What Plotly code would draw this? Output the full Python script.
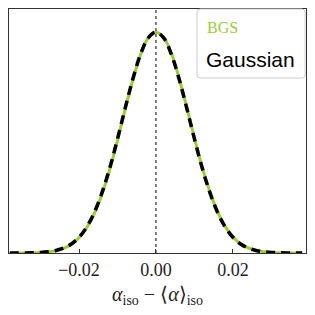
import plotly.graph_objects as go

# values (density units, arbitrary scale)
x_vals = [-0.038, -0.036, -0.034, -0.032, -0.030, -0.028, -0.026, -0.024, -0.022, -0.020,
          -0.018, -0.016, -0.014, -0.012, -0.010, -0.008, -0.006, -0.004, -0.002, 0.000,
          0.002, 0.004, 0.006, 0.008, 0.010, 0.012, 0.014, 0.016, 0.018, 0.020,
          0.022, 0.024, 0.026, 0.028, 0.030, 0.032, 0.034, 0.036, 0.038]
bgs_vals = [0.00, 0.01, 0.02, 0.05, 0.11, 0.24, 0.50, 0.97, 1.80, 3.15,
            5.25, 8.25, 12.3, 17.4, 23.4, 29.9, 36.0, 41.2, 44.7, 45.8,
            44.8, 41.5, 36.4, 30.3, 23.9, 17.9, 12.8, 8.60, 5.50, 3.33,
            1.92, 1.05, 0.55, 0.27, 0.12, 0.05, 0.02, 0.01, 0.00]
gauss_vals = [0.00, 0.01, 0.02, 0.05, 0.12, 0.26, 0.53, 1.02, 1.88, 3.27,
              5.40, 8.46, 12.6, 17.7, 23.7, 30.1, 36.2, 41.3, 44.7, 45.9,
              44.7, 41.3, 36.2, 30.1, 23.7, 17.7, 12.6, 8.46, 5.40, 3.27,
              1.88, 1.02, 0.53, 0.26, 0.12, 0.05, 0.02, 0.01, 0.00]
tick_vals = [-0.02, 0.0, 0.02]
tick_text = ["\u22120.02", "0.00", "0.02"]
legend_labels = ["BGS", "Gaussian"]

GREEN = "#9acd32"
AX = "#333333"

fig = go.Figure()
fig.add_trace(go.Scatter(x=x_vals, y=bgs_vals, mode="lines", name=legend_labels[0],
                         line=dict(color=GREEN, width=3, shape="spline"), showlegend=False))
fig.add_trace(go.Scatter(x=x_vals, y=gauss_vals, mode="lines", name=legend_labels[1],
                         line=dict(color="black", width=3.5, dash="9px,6px", shape="spline"),
                         showlegend=False))

fig.add_shape(type="line", xref="x", yref="paper", x0=0, x1=0, y0=0, y1=1,
              line=dict(color="black", width=1, dash="dot"), layer="below")

# legend box
x0, x1, y0, y1, r = 0.633, 0.997, 0.717, 1.0, 0.012
path = (f"M {x0+r},{y0} L {x1-r},{y0} Q {x1},{y0} {x1},{y0+r} L {x1},{y1-r} "
        f"Q {x1},{y1} {x1-r},{y1} L {x0+r},{y1} Q {x0},{y1} {x0},{y1-r} "
        f"L {x0},{y0+r} Q {x0},{y0} {x0+r},{y0} Z")
fig.add_shape(type="path", path=path, xref="paper", yref="paper",
              fillcolor="rgba(255,255,255,0.85)", line=dict(color="#cccccc", width=1))
fig.add_annotation(text=legend_labels[0], xref="paper", yref="paper", x=0.661, y=0.925,
                   xanchor="left", yanchor="middle", showarrow=False,
                   font=dict(family="Liberation Serif", size=16, color=GREEN))
fig.add_annotation(text=legend_labels[1], xref="paper", yref="paper", x=0.658, y=0.792,
                   xanchor="left", yanchor="middle", showarrow=False,
                   font=dict(family="Liberation Sans", size=21, color="black"))

# the page body has an 8px margin, so the figure is sized to fit the window
fig.update_layout(
    width=307, height=307,
    margin=dict(l=1, r=9, t=1, b=62),
    paper_bgcolor="white", plot_bgcolor="white",
    showlegend=False,
    xaxis=dict(range=[-0.0382, 0.039], tickvals=tick_vals, ticktext=tick_text,
               ticks="inside", ticklen=4, tickcolor=AX, showgrid=False, zeroline=False,
               showline=True, linecolor=AX, linewidth=1.2, mirror=True, automargin=False,
               tickfont=dict(family="Liberation Serif", size=18, color="#222"),
               title=dict(text="<i>α</i><sub>iso</sub> − ⟨<i>α</i>⟩<sub>iso</sub>",
                          font=dict(family="Liberation Serif", size=20, color="#222"),
                          standoff=8)),
    yaxis=dict(range=[0, 50.7], showticklabels=False, ticks="", showgrid=False,
               automargin=False,
               zeroline=False, showline=True, linecolor=AX, linewidth=1.2, mirror=True),
)

fig.write_html("out.html")
